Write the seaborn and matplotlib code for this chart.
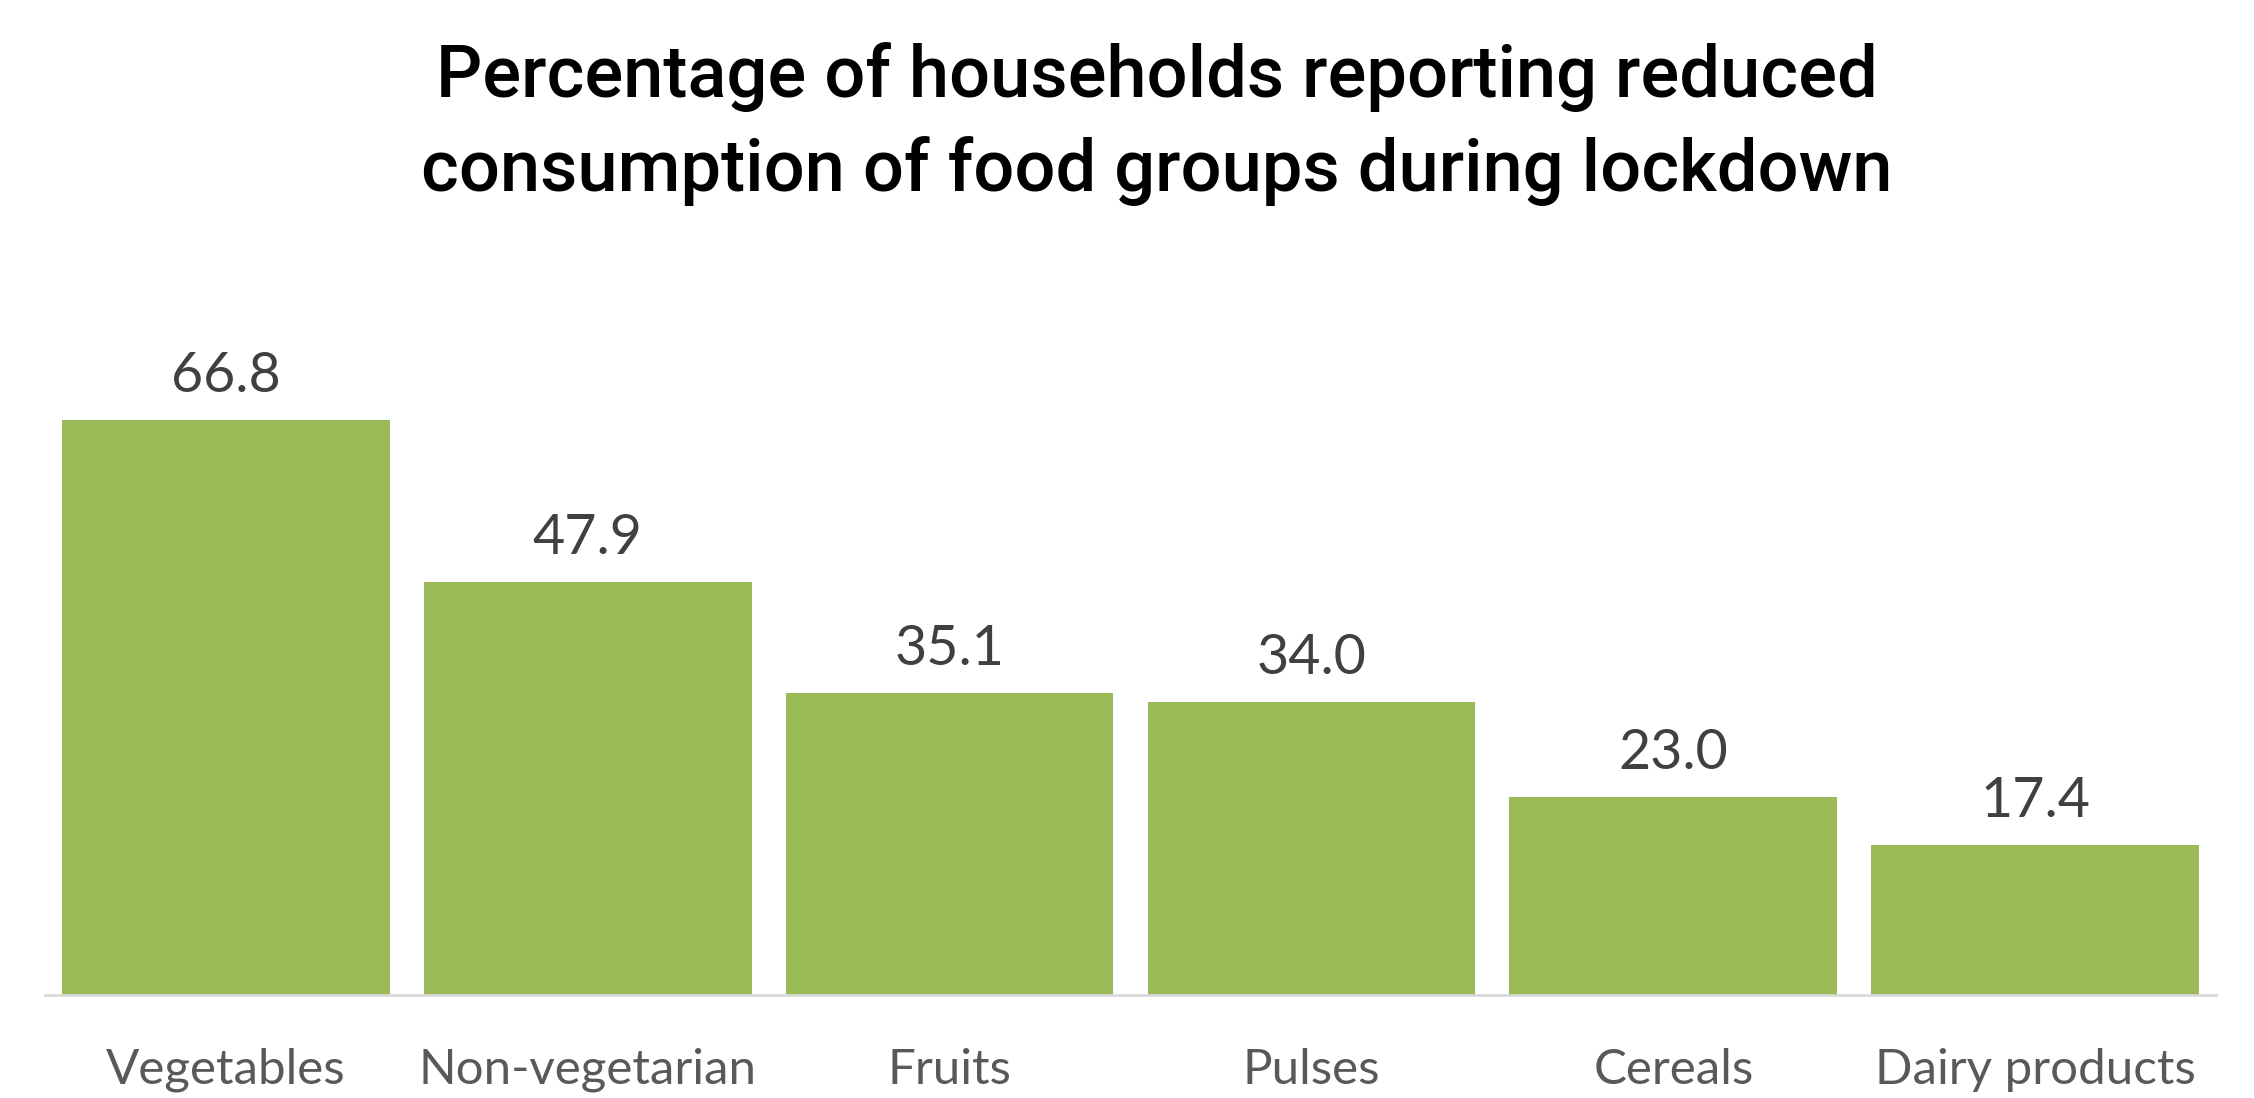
import matplotlib
matplotlib.use("Agg")
import matplotlib.pyplot as plt
import seaborn as sns
import pandas as pd

categories = ["Vegetables", "Non-vegetarian", "Fruits", "Pulses", "Cereals", "Dairy products"]
values = [66.8, 47.9, 35.1, 34.0, 23.0, 17.4]
title = "Percentage of households reporting reduced\nconsumption of food groups during lockdown"

sns.set_theme(style="white")
plt.rcParams['font.family'] = ['Lato', 'DejaVu Sans']

df = pd.DataFrame({"category": categories, "value": values})

fig = plt.figure(figsize=(22.54, 10.98), dpi=100)
ax = fig.add_axes([45/2254, 1-995/1098, (2216-45)/2254, 646/1098])
sns.barplot(data=df, x="category", y="value", color="#9BBB59", saturation=1,
            width=0.906, ax=ax, edgecolor="none")
ax.set_ylim(0, 75)
ax.set_xlim(-0.5, len(categories)-0.5)
ax.set_xlabel("")
ax.set_ylabel("")
ax.set_yticks([])
for s in ["top", "right", "left"]:
    ax.spines[s].set_visible(False)
ax.spines["bottom"].set_color("#D9D9D9")
ax.spines["bottom"].set_linewidth(2)
ax.tick_params(axis="x", length=0, pad=38, labelsize=35.5, labelcolor="#595959")

for c in ax.containers:
    ax.bar_label(c, labels=[f"{v:.1f}" for v in values], padding=13,
                 fontsize=40, color="#404040", clip_on=False)

fig.text(1157/2254, 1-124/1098, title, ha="center", va="center",
         fontsize=52, color="black", linespacing=1.45, weight="medium",
         family=["Roboto", "DejaVu Sans"])

fig.savefig("out.png", dpi=100)
